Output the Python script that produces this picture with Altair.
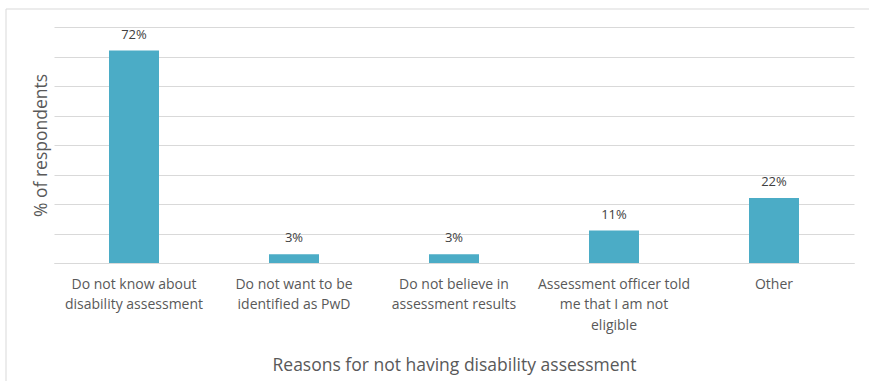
import altair as alt
import pandas as pd

categories = [
    "Do not know about|disability assessment",
    "Do not want to be|identified as PwD",
    "Do not believe in|assessment results",
    "Assessment officer told|me that I am not|eligible",
    "Other",
]
values = [72, 3, 3, 11, 22]
value_labels = ["72%", "3%", "3%", "11%", "22%"]
y_ticks = [0, 10, 20, 30, 40, 50, 60, 70, 80]

df = pd.DataFrame({"reason": categories, "pct": values, "label": value_labels})

FONT = "Open Sans"
TXT = "#595959"
PLOT_W, PLOT_H = 800, 236
LEFT, TOP = 54, 27

x_enc = alt.X(
    "reason:N",
    sort=categories,
    scale=alt.Scale(paddingInner=0.6875, paddingOuter=0.34375),
    axis=alt.Axis(
        title="Reasons for not having disability assessment",
        labelExpr="split(datum.label, '|')",
        labelAngle=0,
        labelFont=FONT,
        labelFontSize=14,
        labelColor=TXT,
        labelLineHeight=20.5,
        labelPadding=14,
        labelBaseline="top",
        ticks=False,
        domainColor="#d9d9d9",
        domainWidth=1,
        titleFont=FONT,
        titleFontSize=17.5,
        titleFontWeight="normal",
        titleColor=TXT,
        titlePadding=24,
    ),
)

y_enc = alt.Y(
    "pct:Q",
    scale=alt.Scale(domain=[0, 80], nice=False),
    axis=alt.Axis(
        title="% of respondents",
        values=y_ticks,
        labels=False,
        ticks=False,
        domain=False,
        grid=True,
        gridColor="#d9d9d9",
        gridWidth=1,
        titleFont=FONT,
        titleFontSize=17.5,
        titleFontWeight="normal",
        titleColor=TXT,
        titlePadding=4,
    ),
)

frame = alt.Chart(pd.DataFrame({"a": [0]})).mark_rect(
    fill=None, stroke="#d9d9d9", strokeWidth=1
).encode(
    x=alt.value(6 - LEFT),
    x2=alt.value(869 - LEFT + 5),
    y=alt.value(9 - TOP),
    y2=alt.value(381 - TOP + 5),
)

bars = alt.Chart(df).mark_bar(color="#4BACC6").encode(x=x_enc, y=y_enc)

text = alt.Chart(df).mark_text(
    font=FONT, fontSize=13, color="#404040", baseline="alphabetic", dy=-12
).encode(x=x_enc, y=y_enc, text="label:N")

chart = alt.layer(frame, bars, text).properties(
    width=PLOT_W,
    height=PLOT_H,
    autosize=alt.AutoSizeParams(type="none"),
    padding={"left": LEFT, "top": TOP, "right": 869 - LEFT - PLOT_W, "bottom": 381 - TOP - PLOT_H},
    background="white",
).configure_view(stroke=None)

chart.save("out.html", embed_options={"renderer": "svg", "actions": False})
